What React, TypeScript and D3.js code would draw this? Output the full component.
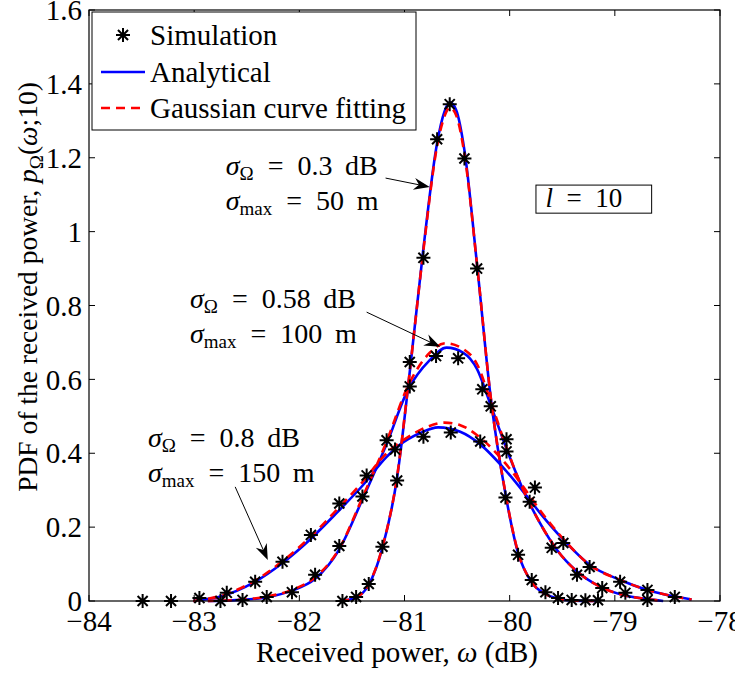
import React from "react";
import * as d3 from "d3";

// ---- tick values ----
const xTicks = [-84, -83, -82, -81, -80, -79, -78];
const yTicks = [0, 0.2, 0.4, 0.6, 0.8, 1, 1.2, 1.4, 1.6];

// ---- simulation points ----
const simNarrowX = [-81.59, -81.46, -81.34, -81.21, -81.07, -80.95, -80.82, -80.69, -80.57, -80.43, -80.31, -80.18, -80.04, -79.92, -79.79, -79.66, -79.54, -79.41, -79.28, -79.16];
const simNarrowY = [0.0, 0.011, 0.046, 0.147, 0.326, 0.647, 0.929, 1.25, 1.345, 1.198, 0.9, 0.527, 0.28, 0.125, 0.057, 0.024, 0.008, 0.003, 0.002, 0.002];

const simMidX = [-82.75, -82.54, -82.31, -82.07, -81.85, -81.62, -81.4, -81.17, -80.95, -80.7, -80.49, -80.26, -80.03, -79.81, -79.6, -79.36, -79.12, -78.9, -78.69];
const simMidY = [0.0, 0.003, 0.011, 0.024, 0.071, 0.149, 0.283, 0.435, 0.581, 0.663, 0.657, 0.573, 0.405, 0.269, 0.144, 0.071, 0.035, 0.022, 0.003];

const simWideX = [-83.49, -83.22, -82.95, -82.69, -82.42, -82.16, -81.89, -81.62, -81.36, -81.09, -80.82, -80.56, -80.28, -80.03, -79.76, -79.49, -79.24, -78.95, -78.69, -78.43];
const simWideY = [0.0, 0.0, 0.008, 0.022, 0.052, 0.106, 0.179, 0.264, 0.34, 0.41, 0.445, 0.456, 0.432, 0.438, 0.307, 0.157, 0.092, 0.052, 0.03, 0.011];

// ---- analytical curves (blue) ----
const anaNarrowX = [-81.61, -81.47, -81.34, -81.21, -81.07, -80.95, -80.82, -80.69, -80.62, -80.57, -80.51, -80.43, -80.31, -80.18, -80.04, -79.92, -79.79, -79.66, -79.54, -79.41, -79.14];
const anaNarrowY = [0, 0.008, 0.044, 0.144, 0.335, 0.62, 0.955, 1.24, 1.325, 1.35, 1.33, 1.22, 0.91, 0.55, 0.29, 0.13, 0.05, 0.019, 0.006, 0.001, 0];

const anaMidX = [-82.87, -82.54, -82.31, -82.07, -81.85, -81.62, -81.4, -81.17, -80.97, -80.76, -80.6, -80.44, -80.31, -80.18, -80.03, -79.87, -79.71, -79.55, -79.36, -79.14, -78.92, -78.69, -78.54];
const anaMidY = [0, 0.003, 0.01, 0.028, 0.06, 0.14, 0.275, 0.425, 0.57, 0.652, 0.686, 0.672, 0.628, 0.53, 0.412, 0.3, 0.21, 0.138, 0.08, 0.039, 0.016, 0.005, 0];

const anaWideX = [-83.01, -82.75, -82.44, -82.16, -81.9, -81.64, -81.4, -81.17, -81.04, -80.85, -80.68, -80.47, -80.28, -80.03, -79.81, -79.71, -79.49, -79.24, -78.95, -78.69, -78.43, -78.27];
const anaWideY = [0, 0.012, 0.049, 0.103, 0.166, 0.24, 0.312, 0.39, 0.424, 0.455, 0.47, 0.458, 0.424, 0.351, 0.274, 0.238, 0.166, 0.098, 0.057, 0.03, 0.012, 0.004];

// ---- Gaussian curve fitting (red dashed) ----
const fitNarrowX = [-81.61, -81.47, -81.34, -81.21, -81.07, -80.95, -80.82, -80.69, -80.62, -80.57, -80.51, -80.43, -80.31, -80.18, -80.04, -79.92, -79.79, -79.66, -79.54, -79.41, -79.14];
const fitNarrowY = [0, 0.008, 0.045, 0.146, 0.338, 0.622, 0.95, 1.232, 1.312, 1.336, 1.316, 1.21, 0.91, 0.552, 0.292, 0.132, 0.051, 0.019, 0.006, 0.001, 0];

const fitMidX = [-82.87, -82.54, -82.31, -82.07, -81.85, -81.62, -81.4, -81.17, -80.97, -80.76, -80.61, -80.44, -80.31, -80.18, -80.03, -79.87, -79.71, -79.55, -79.36, -79.14, -78.92, -78.69, -78.54];
const fitMidY = [0, 0.004, 0.012, 0.03, 0.064, 0.142, 0.28, 0.432, 0.58, 0.672, 0.698, 0.682, 0.641, 0.54, 0.415, 0.3, 0.21, 0.138, 0.08, 0.039, 0.016, 0.005, 0];

const fitWideX = [-83.01, -82.75, -82.44, -82.16, -81.9, -81.64, -81.4, -81.17, -80.96, -80.78, -80.62, -80.47, -80.28, -80.03, -79.83, -79.71, -79.49, -79.24, -78.95, -78.69, -78.43, -78.27];
const fitWideY = [0, 0.014, 0.052, 0.108, 0.172, 0.248, 0.322, 0.4, 0.445, 0.472, 0.483, 0.476, 0.442, 0.369, 0.293, 0.245, 0.168, 0.098, 0.057, 0.03, 0.012, 0.004];

const legendLabels = ["Simulation", "Analytical", "Gaussian curve fitting"];

const FONT = "'Liberation Serif', 'Times New Roman', serif";

const zip = (xs: number[], ys: number[]) => xs.map((x, i) => [x, ys[i]] as [number, number]);

// asterisk marker like MATLAB '*'
const starPath = (r: number) => {
  const d = r * 0.72;
  return `M${-r},0H${r}M0,${-r}V${r}M${-d},${-d}L${d},${d}M${-d},${d}L${d},${-d}`;
};

function Arrow({ x1, y1, x2, y2 }: { x1: number; y1: number; x2: number; y2: number }) {
  const ang = Math.atan2(y2 - y1, x2 - x1);
  const len = 16, hw = 6, notch = 11;
  const c = Math.cos(ang), s = Math.sin(ang);
  const p = (a: number, b: number) => `${x2 + a * c - b * s},${y2 + a * s + b * c}`;
  const head = `M${p(0, 0)}L${p(-len, -hw)}L${p(-notch, 0)}L${p(-len, hw)}Z`;
  return (
    <g>
      <line x1={x1} y1={y1} x2={x2 - notch * c} y2={y2 - notch * s} stroke="#000" strokeWidth={1} />
      <path d={head} fill="#000" />
    </g>
  );
}

function SigmaLabel({ x, y, om, max }: { x: number; y: number; om: string; max: string }) {
  return (
    <g fontFamily={FONT} fontSize={28} fill="#000">
      <text x={x} y={y}>
        <tspan fontStyle="italic">σ</tspan>
        <tspan fontSize={19} dy={5}>Ω</tspan>
        <tspan dy={-5}>{"\u2002=\u2002" + om + " \u2009dB"}</tspan>
      </text>
      <text x={x} y={y + 35}>
        <tspan fontStyle="italic">σ</tspan>
        <tspan fontSize={19} dy={5}>max</tspan>
        <tspan dy={-5}>{"\u2002=\u2002" + max + " \u2009m"}</tspan>
      </text>
    </g>
  );
}

export default function App() {
  const width = 735, height = 673;
  const left = 89, right = 720, top = 10, bottom = 601;

  const x = d3.scaleLinear().domain([-84, -78]).range([left, right]);
  const y = d3.scaleLinear().domain([0, 1.6]).range([bottom, top]);

  const line = d3
    .line<[number, number]>()
    .x((d) => x(d[0]))
    .y((d) => y(d[1]))
    .curve(d3.curveMonotoneX);

  const analytical = [zip(anaNarrowX, anaNarrowY), zip(anaMidX, anaMidY), zip(anaWideX, anaWideY)];
  const fitted = [zip(fitNarrowX, fitNarrowY), zip(fitMidX, fitMidY), zip(fitWideX, fitWideY)];
  const sims = [zip(simNarrowX, simNarrowY), zip(simMidX, simMidY), zip(simWideX, simWideY)];

  const fmtX = (v: number) => (v < 0 ? "\u2212" + Math.abs(v) : String(v));
  const fmtY = (v: number) => d3.format("~g")(v);
  const tick = 6;

  return (
    <svg width={width} height={height} style={{ position: "absolute", left: 0, top: 0, background: "#fff" }}>
      <rect x={0} y={0} width={width} height={height} fill="#fff" />

      {/* curves */}
      <g fill="none">
        {analytical.map((d, i) => (
          <path key={"a" + i} d={line(d) || ""} stroke="#0000ff" strokeWidth={2.6} />
        ))}
        {fitted.map((d, i) => (
          <path key={"f" + i} d={line(d) || ""} stroke="#ff0000" strokeWidth={2.6} strokeDasharray="9,6" />
        ))}
      </g>

      {/* simulation markers */}
      <g stroke="#000" strokeWidth={2} fill="none">
        {sims.map((s, i) =>
          s.map((d, j) => <path key={i + "-" + j} d={starPath(7)} transform={`translate(${x(d[0])},${y(d[1])})`} />)
        )}
      </g>

      {/* axes frame and ticks */}
      <rect x={left} y={top} width={right - left} height={bottom - top} fill="none" stroke="#000" strokeWidth={1.2} />
      <g stroke="#000" strokeWidth={1}>
        {xTicks.map((t) => (
          <g key={"xt" + t}>
            <line x1={x(t)} x2={x(t)} y1={bottom} y2={bottom - tick} />
            <line x1={x(t)} x2={x(t)} y1={top} y2={top + tick} />
          </g>
        ))}
        {yTicks.map((t) => (
          <g key={"yt" + t}>
            <line x1={left} x2={left + tick} y1={y(t)} y2={y(t)} />
            <line x1={right} x2={right - tick} y1={y(t)} y2={y(t)} />
          </g>
        ))}
      </g>
      <g fontFamily={FONT} fontSize={29} fill="#000">
        {xTicks.map((t) => (
          <text key={"xl" + t} x={x(t)} y={631} textAnchor="middle">
            {fmtX(t)}
          </text>
        ))}
        {yTicks.map((t) => (
          <text key={"yl" + t} x={82} y={y(t)} dy="0.35em" textAnchor="end">
            {fmtY(t)}
          </text>
        ))}
        <text x={397} y={662} textAnchor="middle">
          Received power, <tspan fontStyle="italic">ω</tspan> (dB)
        </text>
        <text transform="translate(37,287) rotate(-90)" textAnchor="middle" fontSize={27.5}>
          PDF of the received power, <tspan fontStyle="italic">p</tspan>
          <tspan fontSize={19} dy={6}>Ω</tspan>
          <tspan dy={-6}>(</tspan>
          <tspan fontStyle="italic">ω</tspan>
          <tspan>;10)</tspan>
        </text>
      </g>

      {/* annotations */}
      <SigmaLabel x={x(-82.7)} y={y(1.153)} om="0.3" max="50" />
      <Arrow x1={x(-81.18)} y1={y(1.145)} x2={x(-80.76)} y2={y(1.121)} />
      <SigmaLabel x={x(-83.04)} y={y(0.793)} om="0.58" max="100" />
      <Arrow x1={x(-81.36)} y1={y(0.782)} x2={x(-80.66)} y2={y(0.688)} />
      <SigmaLabel x={x(-83.44)} y={y(0.417)} om="0.8" max="150" />
      <Arrow x1={x(-82.61)} y1={y(0.309)} x2={x(-82.3)} y2={y(0.111)} />

      {/* l = 10 box */}
      <rect x={x(-79.75)} y={y(1.126)} width={x(-78.65) - x(-79.75)} height={y(1.05) - y(1.126)} fill="#fff" stroke="#000" strokeWidth={1} />
      <text x={x(-79.66)} y={y(1.066)} fontFamily={FONT} fontSize={27}>
        <tspan fontStyle="italic">l</tspan>
        {"\u2002=\u200210"}
      </text>

      {/* legend */}
      <g fontFamily={FONT} fontSize={29}>
        <rect x={92} y={12} width={324} height={118} fill="#fff" stroke="#000" strokeWidth={1} />
        <path d={starPath(7)} transform="translate(123,35)" stroke="#000" strokeWidth={2} fill="none" />
        <line x1={101} x2={145} y1={72} y2={72} stroke="#0000ff" strokeWidth={2.6} />
        <line x1={101} x2={145} y1={108} y2={108} stroke="#ff0000" strokeWidth={2.6} strokeDasharray="9,6" />
        {legendLabels.map((l, i) => (
          <text key={l} x={150} y={45 + i * 36.7}>
            {l}
          </text>
        ))}
      </g>
    </svg>
  );
}
